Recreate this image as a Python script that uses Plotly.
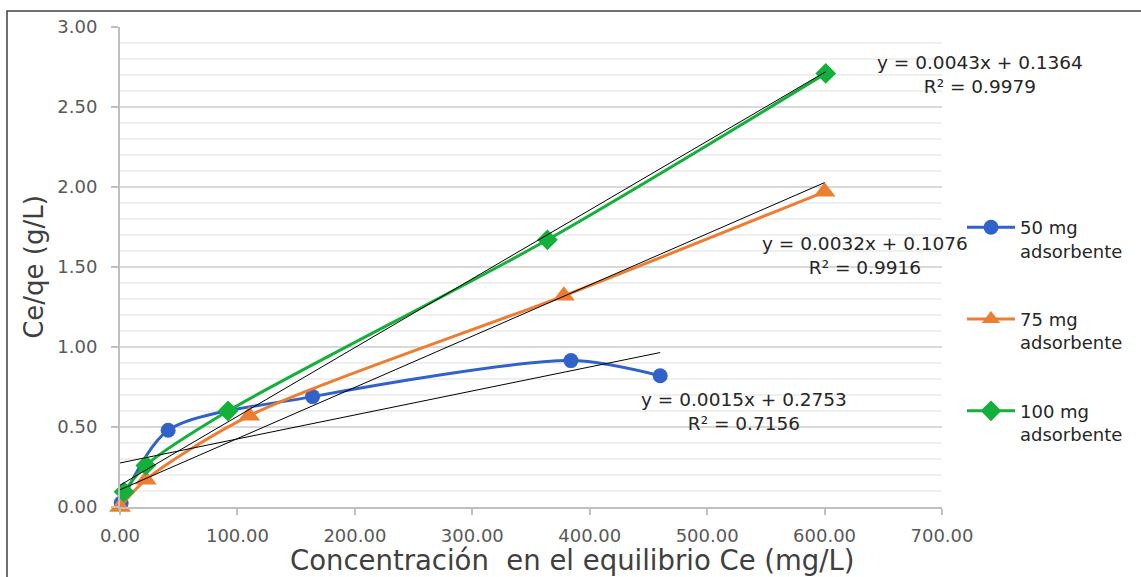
import plotly.graph_objects as go
import numpy as np

# ---- data ----
series_names = ["50 mg<br>adsorbente", "75 mg<br>adsorbente", "100 mg<br>adsorbente"]
ce_50 = [1.0, 41.0, 164.0, 384.0, 460.0]
cq_50 = [0.025, 0.48, 0.69, 0.915, 0.82]
ce_75 = [0.0, 22.0, 110.0, 378.0, 600.0]
cq_75 = [0.0, 0.17, 0.57, 1.32, 1.97]
ce_100 = [3.5, 22.0, 92.0, 364.0, 601.0]
cq_100 = [0.095, 0.26, 0.60, 1.67, 2.71]
slopes = [0.0015, 0.0032, 0.0043]
intercepts = [0.2753, 0.1076, 0.1364]
r2_values = [0.7156, 0.9916, 0.9979]
colors = ["#3162CA", "#ED7D31", "#14B03C"]
symbols = ["circle", "triangle-up", "diamond"]
x_ticks = [0, 100, 200, 300, 400, 500, 600, 700]
y_ticks = [0, 0.5, 1.0, 1.5, 2.0, 2.5, 3.0]
x_title = "Concentración  en el equilibrio Ce (mg/L)"
y_title = "Ce/qe (g/L)"

xs = [ce_50, ce_75, ce_100]
ys = [cq_50, cq_75, cq_100]
msizes = [15, 19, 16]

FONT = "DejaVu Sans"
fig = go.Figure()

for i in range(3):
    fig.add_trace(go.Scatter(
        x=xs[i], y=ys[i], mode="lines+markers", name=series_names[i],
        line=dict(color=colors[i], width=3, shape="spline", smoothing=0.8),
        marker=dict(symbol=symbols[i], size=msizes[i], color=colors[i]),
        legendgroup=f"g{i}", cliponaxis=False,
    ))

# linear trendlines (black, thin) on top
for i in range(3):
    tx = np.array([0.0, max(xs[i])])
    ty = slopes[i] * tx + intercepts[i]
    fig.add_trace(go.Scatter(x=tx, y=ty, mode="lines", line=dict(color="black", width=1),
                             showlegend=False, hoverinfo="skip"))

W, H = 1141, 577
L, R, T, B = 120, 942, 27, 507


def px_to_paper(px, py):
    return (px - L) / (R - L), (B - py) / (B - T)


# trendline equation labels
label_pos = [(744, 411), (865, 255), (980, 75)]  # pixel centers
for i in range(3):
    ax, ay = px_to_paper(*label_pos[i])
    fig.add_annotation(
        x=ax, y=ay, xref="paper", yref="paper",
        text=f"y = {slopes[i]:.4f}x + {intercepts[i]:.4f}<br>R² = {r2_values[i]:.4f}",
        showarrow=False, align="center", xanchor="center", yanchor="middle",
        font=dict(family=FONT, size=18.5, color="#262626"),
    )

# x axis title (offset to the right as in the reference)
tx_, ty_ = px_to_paper(572, 560)
fig.add_annotation(x=tx_, y=ty_, xref="paper", yref="paper", text=x_title,
                   showarrow=False, xanchor="center", yanchor="middle",
                   font=dict(family=FONT, size=27.5, color="#404040"))

# outer border (left/top visible)
bx0, by1 = px_to_paper(7, 11)
bx1, by0 = px_to_paper(W + 10, H + 10)
fig.add_shape(type="rect", xref="paper", yref="paper",
              x0=bx0, x1=bx1, y0=by0, y1=by1,
              line=dict(color="#404040", width=1.5), fillcolor="rgba(0,0,0,0)", layer="below")

lx, ly = px_to_paper(962, 209)
fig.update_layout(
    width=W, height=H,
    margin=dict(l=L, r=W - R, t=T, b=H - B),
    paper_bgcolor="white", plot_bgcolor="white",
    font=dict(family=FONT, color="#595959"),
    showlegend=True,
    legend=dict(x=lx, y=ly, xanchor="left", yanchor="top", valign="top",
                font=dict(family=FONT, size=18, color="#262626"),
                tracegroupgap=42, itemwidth=48, bgcolor="rgba(0,0,0,0)"),
)
fig.update_xaxes(
    range=[0, 700], tickvals=x_ticks, ticktext=[f"{v:.2f}" for v in x_ticks],
    showgrid=False, zeroline=False,
    showline=True, linecolor="#BFBFBF", linewidth=2,
    ticks="outside", ticklen=6, tickcolor="#BFBFBF", tickwidth=1.5,
    ticklabelstandoff=5,
    tickfont=dict(family=FONT, size=18, color="#595959"),
)
fig.update_yaxes(
    range=[0, 3.0], tickvals=y_ticks, ticktext=[f"{v:.2f}" for v in y_ticks],
    showgrid=True, gridcolor="#D9D9D9", gridwidth=1.5,
    minor=dict(dtick=0.1, showgrid=True, gridcolor="#EFEFEF", gridwidth=1.5),
    zeroline=False, showline=True, linecolor="#BFBFBF", linewidth=2,
    ticks="outside", ticklen=7, tickcolor="#BFBFBF", tickwidth=1.5,
    ticklabelstandoff=10,
    tickfont=dict(family=FONT, size=18, color="#595959"),
    title=dict(text=y_title, font=dict(family=FONT, size=26, color="#404040"), standoff=6),
)

fig.write_html("out.html")
